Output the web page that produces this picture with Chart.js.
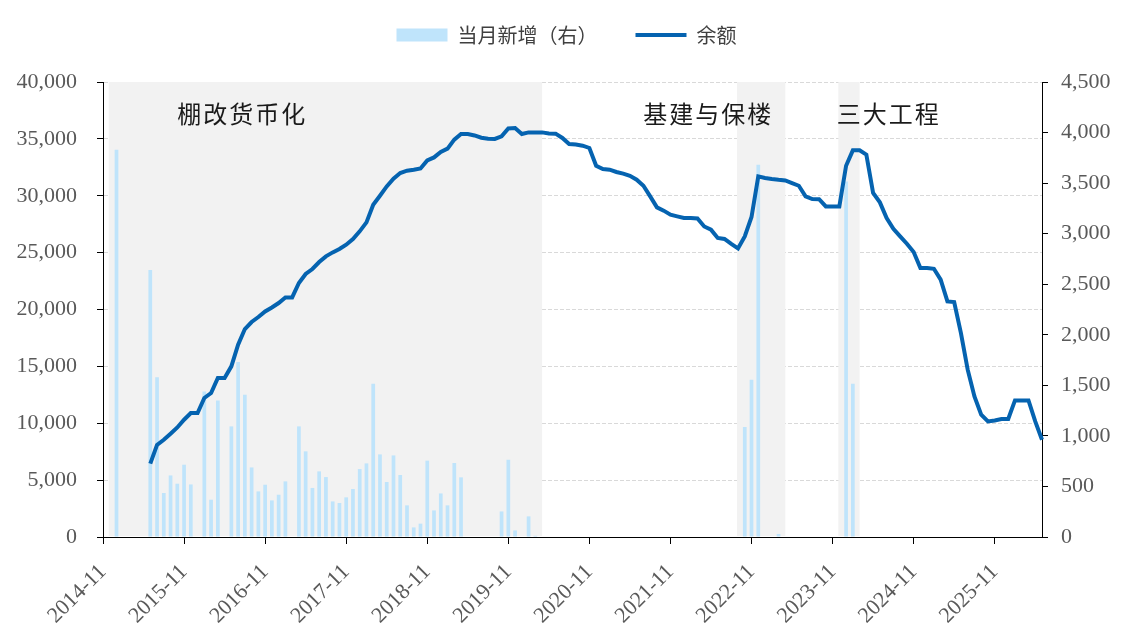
<!DOCTYPE html>
<html>
<head>
<meta charset="utf-8">
<script src="https://cdn.jsdelivr.net/npm/chart.js@4.4.1/dist/chart.umd.min.js"></script>
<style>
  html, body { margin: 0; padding: 0; background: #fff; }
  #wrap { width: 1133px; height: 637px; }
</style>
</head>
<body>
<div id="wrap"><canvas id="grafico"></canvas></div>
<script>
// meses: 2014-11 ate 2026-06
const mesInicial = [2014, 11];
const totalMeses = 140;
const meses = [];
for (let a = mesInicial[0], m = mesInicial[1]; meses.length < totalMeses; m++) {
    if (m > 12) { m = 1; a++; }
    meses.push(a + '-' + String(m).padStart(2, '0'));
}

// 当月新增（右）, eixo direito
const novos = [
    null, null,
    3830, null, null, null, null, 2640, 1580, 435, 609, 527, 715, 520,       // 2015
    null, 1440, 369, 1351, null, 1094, 1731, 1407, 688, 451, 517, 362,       // 2016
    418, 550, null, 1094, 847, 485, 649, 593, 352, 336, 392, 475,            // 2017
    672, 728, 1516, 817, 544, 807, 613, 313, 95, 132, 755, 263,              // 2018
    431, 313, 732, 590, null, null, null, null, null, 253, 764, 65,          // 2019
    null, 204, 12, null, null, null, null, null, null, null, null, null,     // 2020
    null, null, null, null, null, null, null, null, null, null, null, null,  // 2021
    null, null, null, null, null, null, null, null, null, 1088, 1556, 3682,  // 2022
    null, null, 30, null, null, null, null, null, null, null, null, null,    // 2023
    3517, 1516, null, null, null, null, null, null, null, null, null, null,  // 2024
    null, null, null, null, null, null, null, null, null, null, null, null,  // 2025
    null, null, null, null, null, null                                       // 2026
];

// 余额, eixo esquerdo
const saldo = [
    null, null,
    null, null, null, null, null, 6450, 8100, 8550, 9080, 9630, 10310, 10900,            // 2015
    10900, 12220, 12660, 13980, 13980, 15000, 16900, 18280, 18900, 19340, 19830, 20180,  // 2016
    20570, 21060, 21060, 22330, 23120, 23560, 24170, 24670, 25020, 25320, 25700, 26200,  // 2017
    26870, 27660, 29210, 30000, 30820, 31500, 32000, 32200, 32290, 32400, 33110, 33370,  // 2018
    33850, 34140, 34930, 35430, 35430, 35300, 35100, 35010, 35000, 35220, 35920, 35950,  // 2019
    35430, 35570, 35570, 35570, 35480, 35460, 35080, 34550, 34510, 34400, 34200, 32640,  // 2020
    32350, 32290, 32090, 31940, 31760, 31410, 30880, 29940, 28980, 28690, 28330, 28190,  // 2021
    28040, 28040, 28000, 27300, 27020, 26290, 26200, 25760, 25370, 26430, 28130, 31700,  // 2022
    31560, 31470, 31400, 31350, 31120, 30880, 29940, 29710, 29700, 29060, 29060, 29060,  // 2023
    32640, 33990, 33990, 33610, 30240, 29420, 28040, 27100, 26430, 25780, 25050, 23650,  // 2024
    23650, 23580, 22620, 20710, 20650, 17930, 14710, 12360, 10750, 10160, 10250, 10370,  // 2025
    10370, 12010, 12010, 12010, 10160, 8550                                              // 2026
];

// periodos sombreados e os textos de cada um
const periodos = [['2014-12', '2020-04'], ['2022-09', '2023-04'], ['2023-12', '2024-03']];
const rotulos = ['棚改货币化', '基建与保楼', '三大工程'];

const corLinha = '#0563b0';
const corBarra = '#bfe4fb';
const fonteEixo = { family: 'Liberation Serif', size: 22 };

const sombra = {
    id: 'sombra',
    beforeDatasetsDraw(chart) {
        const { ctx, chartArea: a, scales: { x } } = chart;
        ctx.save();
        ctx.fillStyle = '#f2f2f2';
        periodos.forEach(([ini, fim]) => {
            const x0 = x.getPixelForValue(meses.indexOf(ini)) - 1;
            const x1 = x.getPixelForValue(meses.indexOf(fim));
            ctx.fillRect(x0, a.top, x1 - x0, a.bottom - a.top - 1);
        });
        ctx.restore();
    }
};

const notas = {
    id: 'notas',
    afterDatasetsDraw(chart, args, opts) {
        const { ctx, scales: { x, y } } = chart;
        ctx.save();
        ctx.font = '24px "Noto Sans CJK SC"';
        ctx.fillStyle = '#1a1a1a';
        ctx.textAlign = 'center';
        ctx.textBaseline = 'middle';
        ctx.letterSpacing = '2px';
        rotulos.forEach((t, k) => {
            ctx.fillText(t, x.getPixelForValue(opts.posX[k]), y.getPixelForValue(opts.posY));
        });
        ctx.restore();
    }
};

// legenda com altura fixa
const alturaLegenda = {
    id: 'alturaLegenda',
    beforeInit(chart) {
        const fit = chart.legend.fit;
        chart.legend.fit = function () {
            fit.call(this);
            this.height = 95;
        };
    }
};

const ctx = document.getElementById('grafico').getContext('2d');
const grafico = new Chart(ctx, {
    type: 'bar',
    data: {
        labels: meses,
        datasets: [{
            type: 'line',
            label: '余额',
            data: saldo,
            yAxisID: 'y',
            borderColor: corLinha,
            backgroundColor: corLinha,
            borderWidth: 4,
            pointRadius: 0,
            pointStyle: 'line',
            pointBorderColor: corLinha,
            pointBorderWidth: 4,
            tension: 0
        }, {
            label: '当月新增（右）',
            data: novos,
            yAxisID: 'y1',
            backgroundColor: corBarra,
            borderWidth: 0,
            pointStyle: 'rect',
            barPercentage: 0.55,
            categoryPercentage: 1
        }]
    },
    options: {
        responsive: true,
        maintainAspectRatio: false,
        animation: false,
        layout: { padding: { top: -13, left: 0, right: 0, bottom: 0 } },
        plugins: {
            legend: {
                reverse: true,
                labels: {
                    usePointStyle: true,
                    pointStyleWidth: 51,
                    boxHeight: 13,
                    padding: 38,
                    color: '#404040',
                    font: { family: 'Noto Sans CJK SC', size: 20 }
                }
            },
            tooltip: { enabled: false },
            notas: { posX: [20.6, 89.6, 116.3], posY: 37200 }
        },
        scales: {
            x: {
                offset: false,
                grid: {
                    offset: false,
                    drawOnChartArea: false,
                    tickLength: 7,
                    tickColor: c => (c.index % 12 === 0 ? '#000' : 'rgba(0,0,0,0)')
                },
                border: { color: '#000', width: 1 },
                ticks: {
                    autoSkip: false,
                    maxRotation: 45,
                    minRotation: 45,
                    padding: 15,
                    color: '#595959',
                    font: fonteEixo,
                    callback: (v, i) => (i % 12 === 0 ? meses[i] : '')
                },
                afterFit: s => { s.height = 100; }
            },
            y: {
                position: 'left',
                min: 0,
                max: 40000,
                grid: {
                    color: '#d9d9d9',
                    tickColor: '#000',
                    tickLength: 6,
                    tickBorderDash: []
                },
                border: { color: '#000', width: 1, dash: [4, 2] },
                ticks: {
                    stepSize: 5000,
                    padding: 20,
                    color: '#595959',
                    font: fonteEixo,
                    callback: v => v.toLocaleString('en-US')
                },
                afterFit: s => { s.width = 103; }
            },
            y1: {
                position: 'right',
                min: 0,
                max: 4500,
                grid: {
                    drawOnChartArea: false,
                    tickColor: '#000',
                    tickLength: 6
                },
                border: { color: '#000', width: 1 },
                ticks: {
                    stepSize: 500,
                    padding: 13,
                    color: '#595959',
                    font: fonteEixo,
                    callback: v => v.toLocaleString('en-US')
                },
                afterFit: s => { s.width = 91; }
            }
        }
    },
    plugins: [sombra, notas, alturaLegenda]
});
</script>
</body>
</html>
